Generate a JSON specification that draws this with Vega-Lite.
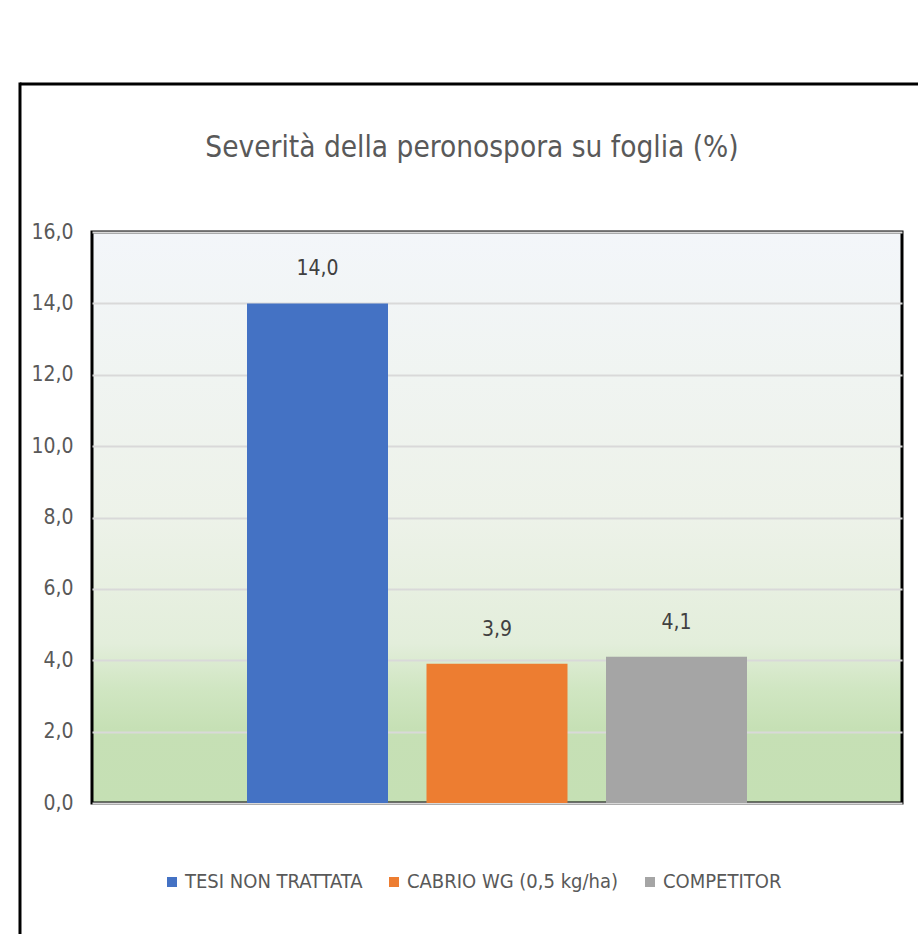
{
  "$schema": "https://vega.github.io/schema/vega-lite/v6.json",
  "width": 810,
  "height": 571,
  "autosize": "none",
  "padding": {"left": 92, "top": 232, "right": 16, "bottom": 131},
  "background": "white",
  "title": {
    "text": "Severità della peronospora su foglia (%)",
    "fontSize": 29.5,
    "fontWeight": "normal",
    "color": "#595959",
    "anchor": "middle",
    "baseline": "alphabetic",
    "dx": -25,
    "offset": -106
  },
  "data": {
    "values": [
      {"cat": "Severità", "series": "TESI NON TRATTATA", "value": 14.0},
      {"cat": "Severità", "series": "CABRIO WG (0,5 kg/ha)", "value": 3.9},
      {"cat": "Severità", "series": "COMPETITOR", "value": 4.1}
    ]
  },
  "resolve": {"scale": {"x": "independent"}, "axis": {"x": "independent"}},
  "layer": [
    {
      "data": {"values": [{}]},
      "mark": {"type": "rule", "color": "#000000", "strokeWidth": 3, "clip": false},
      "encoding": {
        "x": {"datum": -0.0889, "type": "quantitative", "scale": {"domain": [0, 1], "nice": false, "zero": false}, "axis": null},
        "x2": {"datum": 1.05},
        "y": {"datum": 20.15, "type": "quantitative", "scale": {"domain": [0, 16], "nice": false}}
      }
    },
    {
      "data": {"values": [{}]},
      "mark": {"type": "rule", "color": "#000000", "strokeWidth": 3, "clip": false},
      "encoding": {
        "x": {"datum": -0.0889, "type": "quantitative", "scale": {"domain": [0, 1], "nice": false, "zero": false}, "axis": null},
        "y": {"datum": 20.19, "type": "quantitative", "scale": {"domain": [0, 16], "nice": false}},
        "y2": {"datum": -4}
      }
    },
    {
      "mark": {"type": "bar"},
      "encoding": {
        "x": {"field": "cat", "type": "nominal", "axis": null, "scale": {"paddingInner": 0, "paddingOuter": 0.31}},
        "xOffset": {"field": "series", "type": "nominal", "sort": ["TESI NON TRATTATA", "CABRIO WG (0,5 kg/ha)", "COMPETITOR"], "scale": {"paddingInner": 0.2145, "paddingOuter": 0}},
        "y": {
          "field": "value",
          "type": "quantitative",
          "scale": {"domain": [0, 16], "nice": false},
          "axis": {
            "values": [0, 2, 4, 6, 8, 10, 12, 14, 16],
            "format": ".1f",
            "title": null,
            "domain": false,
            "ticks": false,
            "grid": true,
            "gridColor": "#d9d9d9",
            "gridWidth": 2,
            "labelFontSize": 21,
            "labelColor": "#595959",
            "labelPadding": 19
          }
        },
        "color": {
          "field": "series",
          "type": "nominal",
          "sort": ["TESI NON TRATTATA", "CABRIO WG (0,5 kg/ha)", "COMPETITOR"],
          "scale": {"domain": ["TESI NON TRATTATA", "CABRIO WG (0,5 kg/ha)", "COMPETITOR"], "range": ["#4472c4", "#ed7d31", "#a5a5a5"]},
          "legend": {
            "title": null,
            "orient": "none",
            "direction": "horizontal",
            "legendX": 70,
            "legendY": 640,
            "symbolType": "square",
            "symbolSize": 100,
            "symbolStrokeWidth": 0,
            "labelFontSize": 20,
            "labelLimit": 0,
            "labelColor": "#595959",
            "labelOffset": 3,
            "columnPadding": 21,
            "symbolOpacity": 1
          }
        }
      }
    },
    {
      "mark": {"type": "text", "baseline": "alphabetic", "dy": -28, "fontSize": 21, "color": "#404040"},
      "encoding": {
        "x": {"field": "cat", "type": "nominal", "axis": null, "scale": {"paddingInner": 0, "paddingOuter": 0.31}},
        "xOffset": {"field": "series", "type": "nominal", "sort": ["TESI NON TRATTATA", "CABRIO WG (0,5 kg/ha)", "COMPETITOR"], "scale": {"paddingInner": 0.2145, "paddingOuter": 0}},
        "y": {"field": "value", "type": "quantitative"},
        "text": {"field": "value", "type": "quantitative", "format": ".1f"}
      }
    }
  ],
  "config": {
    "font": "Liberation Sans Narrow, DejaVu Sans Condensed, Liberation Sans",
    "locale": {"number": {"decimal": ",", "thousands": ".", "grouping": [3], "currency": ["", " €"]}},
    "view": {
      "stroke": "#000000",
      "strokeWidth": 3,
      "fill": {
        "gradient": "linear",
        "x1": 0, "y1": 0, "x2": 0, "y2": 1,
        "stops": [
          {"offset": 0, "color": "#f3f6fa"},
          {"offset": 0.5, "color": "#edf2e9"},
          {"offset": 0.72, "color": "#e3eedb"},
          {"offset": 0.8, "color": "#d0e6c2"},
          {"offset": 0.87, "color": "#c6e0b5"},
          {"offset": 1, "color": "#c5e0b4"}
        ]
      }
    }
  }
}
